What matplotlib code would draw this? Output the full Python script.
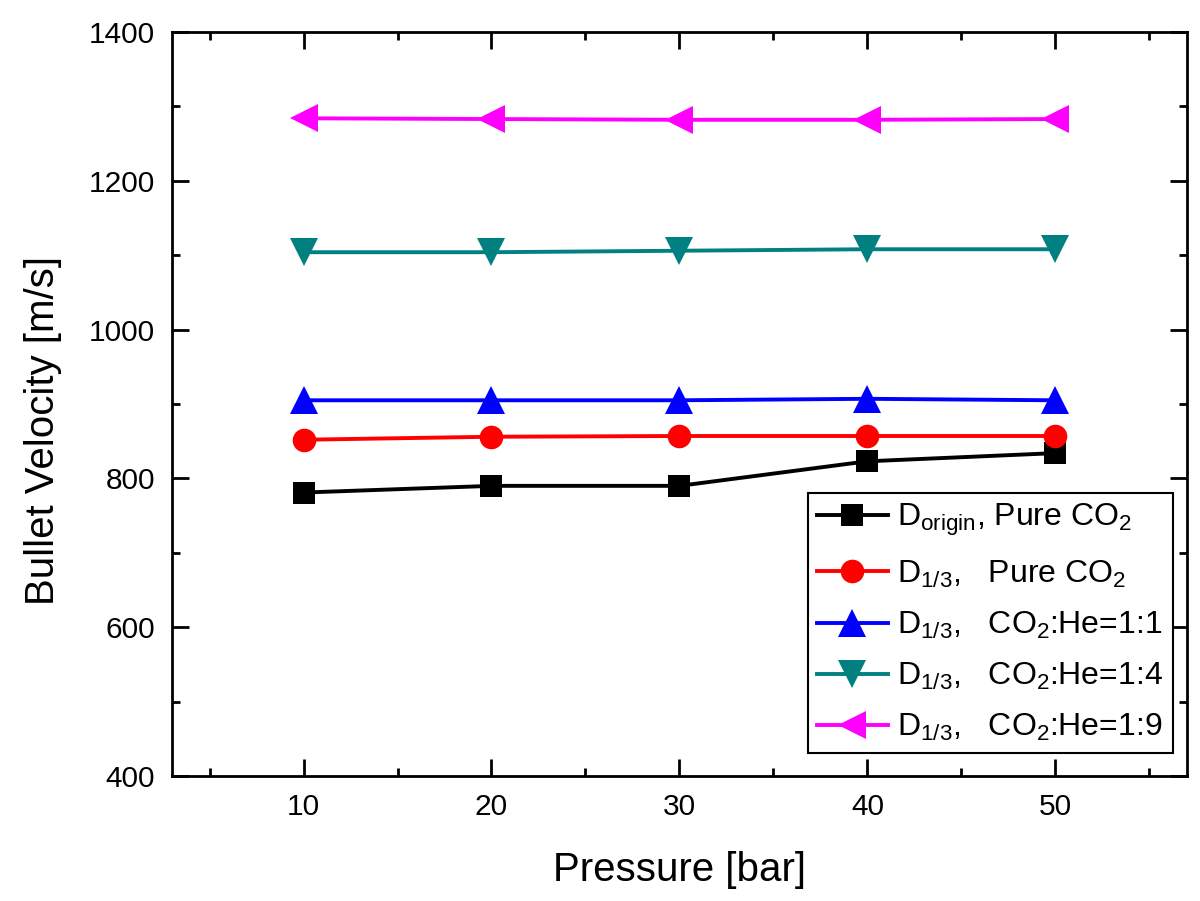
import matplotlib
matplotlib.use("Agg")
import matplotlib.pyplot as plt
from matplotlib.ticker import MultipleLocator

plt.rcParams['font.family'] = ['Liberation Sans', 'DejaVu Sans']
plt.rcParams['mathtext.fontset'] = 'custom'
plt.rcParams['mathtext.rm'] = 'Liberation Sans'
plt.rcParams['mathtext.it'] = 'Liberation Sans'
plt.rcParams['mathtext.bf'] = 'Liberation Sans'

pressure = [10, 20, 30, 40, 50]
d_origin_co2 = [781, 790, 790, 823, 834]
d13_co2 = [852, 856, 857, 857, 857]
d13_he11 = [905, 905, 905, 907, 905]
d13_he14 = [1104, 1104, 1106, 1108, 1108]
d13_he19 = [1284, 1283, 1282, 1282, 1283]

labels = [
    r'D$_{\mathrm{origin}}$, Pure CO$_{\mathrm{2}}$',
    r'D$_{\mathrm{1/3}}$,   Pure CO$_{\mathrm{2}}$',
    r'D$_{\mathrm{1/3}}$,   CO$_{\mathrm{2}}$:He=1:1',
    r'D$_{\mathrm{1/3}}$,   CO$_{\mathrm{2}}$:He=1:4',
    r'D$_{\mathrm{1/3}}$,   CO$_{\mathrm{2}}$:He=1:9',
]
series = [d_origin_co2, d13_co2, d13_he11, d13_he14, d13_he19]
colors = ['#000000', '#FF0000', '#0000FF', '#008080', '#FF00FF']
markers = ['s', 'o', '^', 'v', '<']
msizes = [16, 17, 20, 20, 20]

fig = plt.figure(figsize=(12, 9.01), dpi=100)
ax = fig.add_axes([0.1433, 0.1387, 0.8458, 0.8258])

for ys, lab, c, m, ms in zip(series, labels, colors, markers, msizes):
    ax.plot(pressure, ys, color=c, marker=m, markersize=ms, linewidth=2.8,
            label=lab, markeredgewidth=0)

ax.set_xlim(3, 57)
ax.set_ylim(400, 1400)
ax.xaxis.set_major_locator(MultipleLocator(10))
ax.xaxis.set_minor_locator(MultipleLocator(5))
ax.yaxis.set_major_locator(MultipleLocator(200))
ax.yaxis.set_minor_locator(MultipleLocator(100))
ax.tick_params(which='both', direction='in', top=True, right=True, width=2)
ax.tick_params(which='major', length=12, labelsize=21.5)
ax.tick_params(axis='x', which='major', pad=12)
ax.tick_params(axis='y', which='major', pad=12)
ax.tick_params(which='minor', length=6)
for s in ax.spines.values():
    s.set_linewidth(2)

ax.set_xlabel('Pressure [bar]', fontsize=29, labelpad=22)
ax.set_ylabel('Bullet Velocity [m/s]', fontsize=29)
ax.yaxis.set_label_coords(-0.108, 0.464)

leg = ax.legend(loc='lower right', bbox_to_anchor=(0.986, 0.031), borderaxespad=0,
                fontsize=23, frameon=True, fancybox=False, framealpha=1,
                edgecolor='black', handlelength=2.2, handletextpad=0.3,
                labelspacing=0.63, borderpad=0.3)
leg.get_frame().set_linewidth(1.5)

fig.savefig('out.png', dpi=100)
